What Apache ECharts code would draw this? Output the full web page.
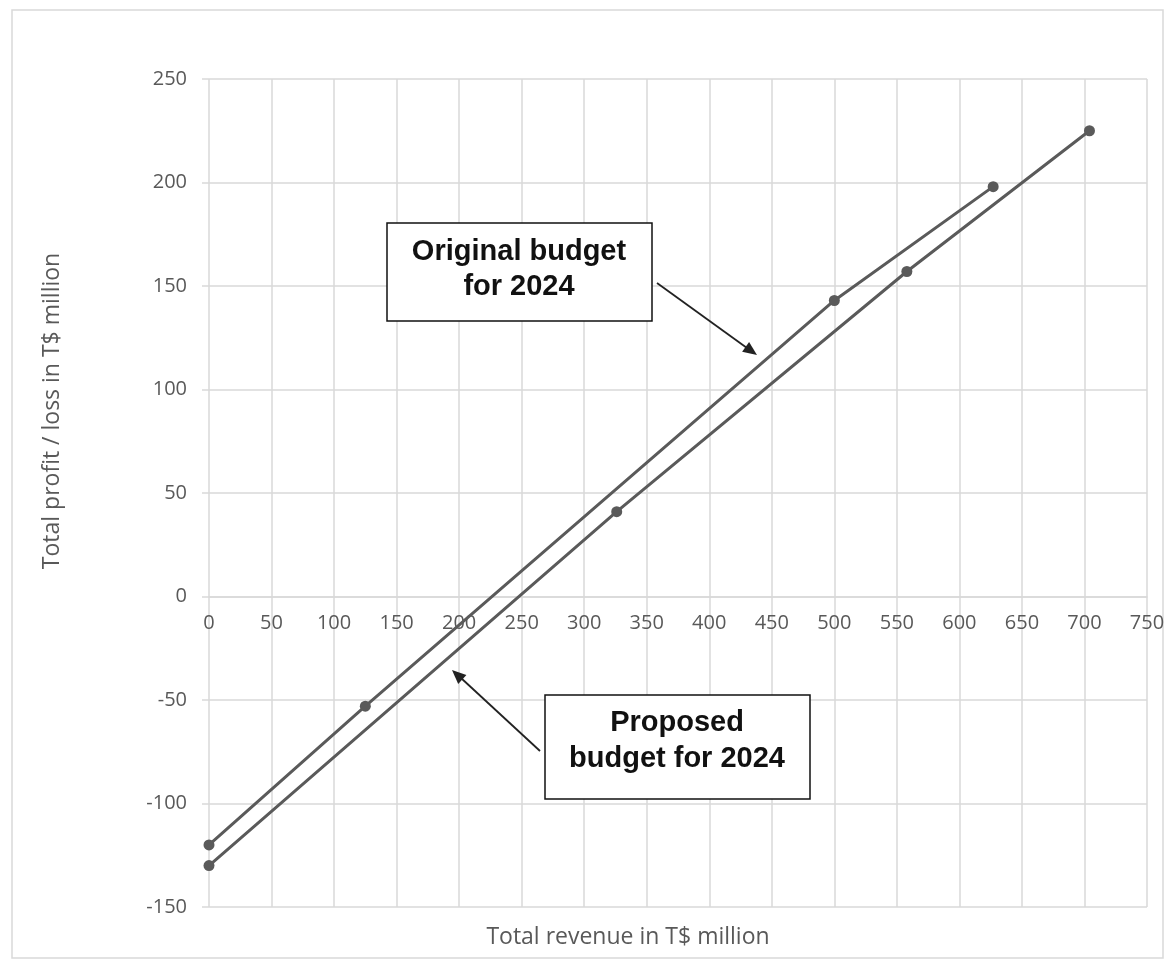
<!DOCTYPE html>
<html>
<head>
<meta charset="utf-8">
<script src="https://cdn.jsdelivr.net/npm/echarts@6/dist/echarts.min.js"></script>
<style>
html,body{margin:0;padding:0;background:#fff;}
#chart{width:1175px;height:965px;}
</style>
</head>
<body>
<div id="chart"></div>
<script>
// Data (revenue in T$ million, profit/loss in T$ million)
const originalRevenue = [0, 125, 500, 627];
const originalProfit  = [-120, -53, 143, 198];
const proposedRevenue = [0, 326, 558, 704];
const proposedProfit  = [-130, 41, 157, 225];

const xTicks = {min: 0, max: 750, step: 50};
const yTicks = {min: -150, max: 250, step: 50};

const xTitle = 'Total revenue in T$ million';
const yTitle = 'Total profit / loss in T$ million';
const note1 = ['Original budget', 'for 2024'];
const note2 = ['Proposed', 'budget for 2024'];

const pairs = (xs, ys) => xs.map((x, i) => [x, ys[i]]);

const chart = echarts.init(document.getElementById('chart'), null, {renderer: 'canvas'});
const grey = '#d9d9d9';
const txt = '#595959';
const lineCol = '#5a5a5a';
const font = '"Open Sans", "Noto Sans", sans-serif';
const boldFont = 'bold 29px "Liberation Sans", Arial, sans-serif';

chart.setOption({
  backgroundColor: '#fff',
  animation: false,
  grid: {left: 209, right: 28, top: 79, bottom: 58},
  xAxis: {
    type: 'value', min: xTicks.min, max: xTicks.max, interval: xTicks.step,
    axisLine: {show: true, onZero: false, lineStyle: {color: grey, width: 1.5}},
    axisTick: {show: false},
    splitLine: {show: true, lineStyle: {color: grey, width: 1.5}},
    axisLabel: {color: txt, fontSize: 20, fontFamily: font, margin: 17}
  },
  yAxis: {
    type: 'value', min: yTicks.min, max: yTicks.max, interval: yTicks.step,
    axisLine: {show: false, onZero: false},
    axisTick: {show: true, length: 7, lineStyle: {color: grey, width: 1.5}},
    splitLine: {show: true, lineStyle: {color: grey, width: 1.5}},
    axisLabel: {color: txt, fontSize: 20, fontFamily: font, margin: 22}
  },
  series: [
    {
      name: 'Original budget for 2024', type: 'line', z: 5,
      data: pairs(originalRevenue, originalProfit),
      symbol: 'circle', symbolSize: 11,
      lineStyle: {color: lineCol, width: 3},
      itemStyle: {color: lineCol}
    },
    {
      name: 'Proposed budget for 2024', type: 'line', z: 5,
      data: pairs(proposedRevenue, proposedProfit),
      symbol: 'circle', symbolSize: 11,
      lineStyle: {color: lineCol, width: 3},
      itemStyle: {color: lineCol}
    }
  ],
  graphic: [
    {type: 'rect', silent: true, z: -10, shape: {x: 12, y: 10, width: 1151, height: 948},
     style: {fill: 'none', stroke: grey, lineWidth: 1.5}},
    {type: 'text', x: 628, y: 937, style: {text: xTitle, fill: txt, font: '23px ' + font, textAlign: 'center', textVerticalAlign: 'middle'}},
    {type: 'text', x: 52, y: 411, rotation: Math.PI / 2, style: {text: yTitle, fill: txt, font: '23px ' + font, textAlign: 'center', textVerticalAlign: 'middle'}},
    // Annotation 1
    {type: 'rect', z: 20, shape: {x: 387, y: 223, width: 265, height: 98},
     style: {fill: '#fff', stroke: '#111', lineWidth: 1.5}},
    {type: 'text', z: 21, x: 519, y: 252, style: {text: note1[0], fill: '#111', font: boldFont, textAlign: 'center', textVerticalAlign: 'middle'}},
    {type: 'text', z: 21, x: 519, y: 287, style: {text: note1[1], fill: '#111', font: boldFont, textAlign: 'center', textVerticalAlign: 'middle'}},
    {type: 'line', z: 20, shape: {x1: 657, y1: 283, x2: 747, y2: 348}, style: {stroke: '#222', lineWidth: 1.8}},
    {type: 'polygon', z: 20, shape: {points: [[757, 355], [742.1, 351.7], [749.1, 341.9]]}, style: {fill: '#222'}},
    // Annotation 2
    {type: 'rect', z: 20, shape: {x: 545, y: 695, width: 265, height: 104},
     style: {fill: '#fff', stroke: '#111', lineWidth: 1.5}},
    {type: 'text', z: 21, x: 677, y: 723, style: {text: note2[0], fill: '#111', font: boldFont, textAlign: 'center', textVerticalAlign: 'middle'}},
    {type: 'text', z: 21, x: 677, y: 759, style: {text: note2[1], fill: '#111', font: boldFont, textAlign: 'center', textVerticalAlign: 'middle'}},
    {type: 'line', z: 20, shape: {x1: 540, y1: 751, x2: 461, y2: 678}, style: {stroke: '#222', lineWidth: 1.8}},
    {type: 'polygon', z: 20, shape: {points: [[452, 670], [466.4, 675.1], [458.2, 683.9]]}, style: {fill: '#222'}}
  ]
});

// Move the x axis (line + labels) up to the y = 0 position, as in the reference
const zeroY = chart.convertToPixel({yAxisIndex: 0}, 0);
const bottomY = chart.convertToPixel({yAxisIndex: 0}, yTicks.min);
chart.setOption({xAxis: {offset: zeroY - bottomY}});
</script>
</body>
</html>
